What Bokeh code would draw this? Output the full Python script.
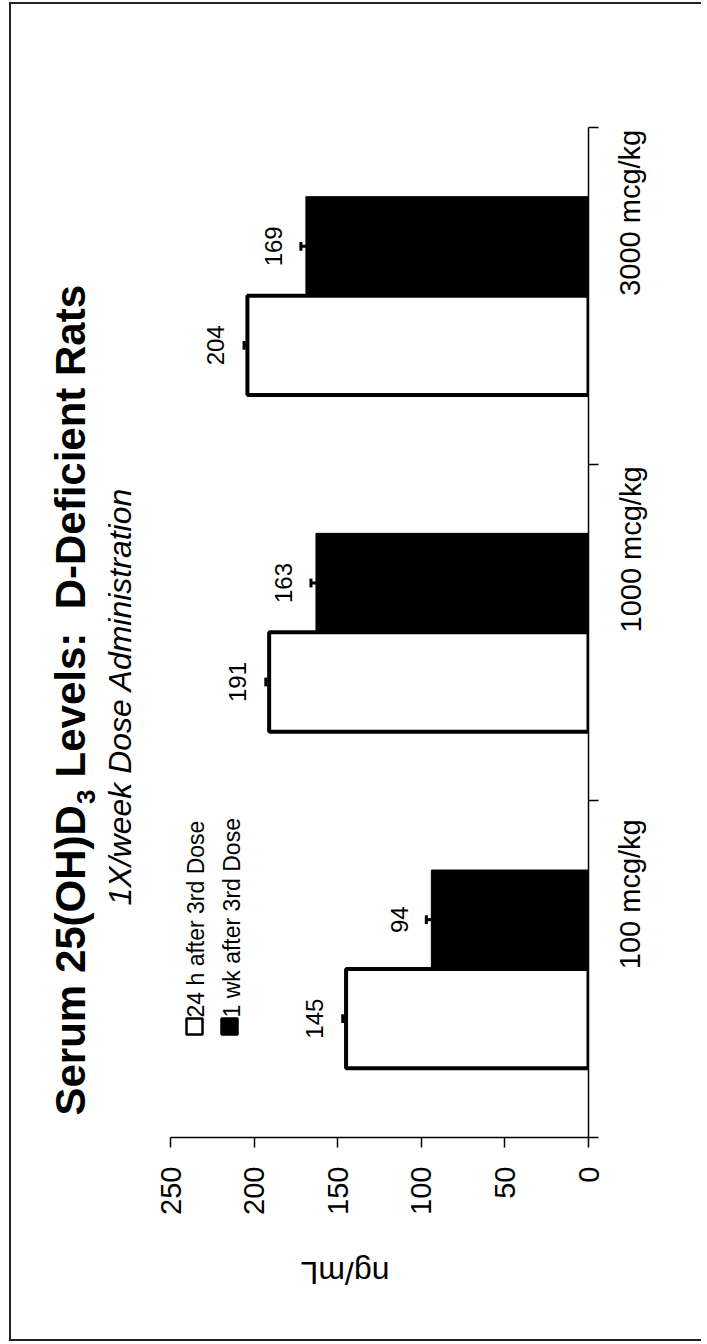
import math
from bokeh.plotting import figure
from bokeh.models import Range1d, FixedTicker, LinearAxis, Label, ColumnDataSource
from bokeh.core.properties import value
from bokeh.embed import file_html
from bokeh.resources import INLINE

# ---------------- data ----------------
categories = ["100 mcg/kg", "1000 mcg/kg", "3000 mcg/kg"]
series_names = ["24 h after 3rd Dose", "1 wk after 3rd Dose"]
vals_24h = [145, 191, 204]
vals_1wk = [94, 163, 169]
err_24h = [2, 2, 2]
err_1wk = [3, 3, 3]
value_ticks = [0, 50, 100, 150, 200, 250]
title_parts = ["Serum 25(OH)D", "3", "Levels:", "D-Deficient Rats"]
subtitle = "1X/week Dose Administration"
value_axis_title = "ng/mL"

FONT = "Liberation Sans"
NCAT = len(categories)
VMAX = 250

# ---------------- layout (pixels in the page) ----------------
MARGIN_L, MARGIN_T = 9, 2
BORDER = 2
CANVAS_X0 = MARGIN_L + BORDER   # canvas origin in the page
CANVAS_Y0 = MARGIN_T + BORDER
AX0_X = 588                     # value 0 / category axis line
AX250_X = 170                   # value 250
CAT_TOP_Y = 127                 # top of category axis
CAT_BOT_Y = 1137                # value axis line
FRAME_L = CANVAS_X0 + 1
FRAME_T = CANVAS_Y0
CANVAS_W = 690
CANVAS_H = 1335

PXU_X = (AX0_X - AX250_X) / VMAX               # px per value unit
PXU_Y = (CAT_BOT_Y - CAT_TOP_Y) / NCAT         # px per category


def xd(ix):
    return (AX0_X - ix) / PXU_X


def yd(iy):
    return -0.5 + (CAT_BOT_Y - iy) / PXU_Y


fw = AX0_X - FRAME_L
fh = CAT_BOT_Y - FRAME_T
p = figure(frame_width=fw, frame_height=fh,
           x_range=Range1d(xd(FRAME_L), 0), y_range=Range1d(-0.5, yd(FRAME_T)),
           output_backend="svg", toolbar_location=None,
           x_axis_location=None, y_axis_location=None,
           min_border_left=FRAME_L - CANVAS_X0, min_border_top=FRAME_T - CANVAS_Y0,
           min_border_right=CANVAS_W - (AX0_X - CANVAS_X0),
           min_border_bottom=CANVAS_H - (CAT_BOT_Y - CANVAS_Y0))
p.outline_line_color = None
p.background_fill_color = "white"
p.border_fill_color = "white"
p.xgrid.grid_line_color = None
p.ygrid.grid_line_color = None
p.styles = {"margin-left": f"{MARGIN_L}px", "margin-top": f"{MARGIN_T}px",
            "border-left": f"{BORDER}px solid #222", "border-top": f"{BORDER}px solid #222",
            "border-bottom": f"{BORDER}px solid #222"}

# value axis (original y axis, now at the bottom)
xaxis = LinearAxis(ticker=FixedTicker(ticks=value_ticks), bounds=(0, VMAX))
xaxis.axis_line_color = "black"
xaxis.axis_line_width = 1.5
xaxis.major_tick_in = 0
xaxis.major_tick_out = 10
xaxis.major_tick_line_width = 1.5
xaxis.minor_tick_out = 0
xaxis.major_label_orientation = math.pi / 2
xaxis.major_label_text_font = FONT
xaxis.major_label_text_font_size = "29px"
xaxis.major_label_text_color = "black"
xaxis.major_label_standoff = 19
xaxis.axis_label = value_axis_title
xaxis.axis_label_orientation = math.pi
xaxis.axis_label_text_font = FONT
xaxis.axis_label_text_font_size = "32px"
xaxis.axis_label_text_font_style = "normal"
xaxis.axis_label_text_color = "black"
xaxis.axis_label_standoff = 55
p.add_layout(xaxis, "below")

# category axis (original x axis, now at the right)
cat_idx = list(range(NCAT))
yaxis = LinearAxis(ticker=FixedTicker(ticks=cat_idx,
                                      minor_ticks=[i - 0.5 for i in range(NCAT + 1)]),
                   bounds=(-0.5, NCAT - 0.5))
yaxis.major_label_overrides = {i: c for i, c in enumerate(categories)}
yaxis.axis_line_color = "black"
yaxis.axis_line_width = 1.5
yaxis.major_tick_in = 0
yaxis.major_tick_out = 0
yaxis.minor_tick_in = 0
yaxis.minor_tick_out = 10
yaxis.minor_tick_line_color = "black"
yaxis.minor_tick_line_width = 1.5
yaxis.major_label_orientation = math.pi / 2
yaxis.major_label_text_font = FONT
yaxis.major_label_text_font_size = "29px"
yaxis.major_label_text_color = "black"
yaxis.major_label_standoff = 32
p.add_layout(yaxis, "right")

OFF = 0.147
BH = 0.295
src24 = ColumnDataSource(dict(y=[i - OFF for i in cat_idx], v=vals_24h))
src1w = ColumnDataSource(dict(y=[i + OFF for i in cat_idx], v=vals_1wk))

p.hbar(y="y", height=BH, left=0, right="v", source=src1w,
       fill_color="black", line_color="black", line_width=1)
p.hbar(y="y", height=BH, left=0, right="v", source=src24,
       fill_color="white", line_color="black", line_width=4)

# error bars and value labels
for vals, errs, ys in ((vals_24h, err_24h, src24.data["y"]),
                       (vals_1wk, err_1wk, src1w.data["y"])):
    tops = [v + e for v, e in zip(vals, errs)]
    p.segment(x0=vals, x1=tops, y0=ys, y1=ys, line_color="black", line_width=3)
    p.segment(x0=tops, x1=tops, y0=[y - 0.013 for y in ys], y1=[y + 0.013 for y in ys],
              line_color="black", line_width=3)
    p.text(x=vals, y=ys, text=[str(v) for v in vals], angle=math.pi / 2,
           text_align="center", text_baseline="alphabetic", x_offset=-32,
           text_font=value(FONT), text_font_size="24px", text_color="black")

# legend (drawn rotated like the rest of the chart)
p.scatter(x=[xd(194), xd(229)], y=[yd(1026), yd(1026)], marker="square", size=16,
          fill_color=["white", "black"], line_color="black", line_width=2.5)
p.text(x=[xd(195), xd(231)], y=[yd(1017), yd(1017)], text=series_names,
       angle=math.pi / 2, text_align="left", text_baseline="alphabetic",
       text_font=value(FONT), text_font_size="23px", text_color="black")

# title, read bottom-to-top, with the subscript 3
TF = 42
TITLE_BASE_X = 70
TITLE_START_Y = 1115
w1 = 7.39 * TF
w_sub = 16
w_sp = 0.278 * TF
w_lev = 3.446 * TF
title_specs = [
    (title_parts[0], TITLE_BASE_X, TITLE_START_Y, TF, "bold"),
    (title_parts[1], TITLE_BASE_X + 15, TITLE_START_Y - w1 - 1, 26, "bold"),
    (title_parts[2], TITLE_BASE_X, TITLE_START_Y - w1 - w_sub - w_sp, TF, "bold"),
    (title_parts[3], TITLE_BASE_X, TITLE_START_Y - w1 - w_sub - w_sp - w_lev - 2 * w_sp, TF, "bold"),
]
for txt, ix, iy, fs, style in title_specs:
    p.add_layout(Label(x=xd(ix), y=yd(iy), text=txt,
                       angle=math.pi / 2, text_align="left", text_baseline="alphabetic",
                       text_font=FONT, text_font_size=f"{fs}px", text_font_style=style,
                       text_color="black"))

p.add_layout(Label(x=xd(119), y=yd(696), text=subtitle,
                   angle=math.pi / 2, text_align="center", text_baseline="alphabetic",
                   text_font=FONT, text_font_size="32px", text_font_style="italic",
                   text_color="black"))

open("out.html", "w").write(file_html(p, INLINE))
